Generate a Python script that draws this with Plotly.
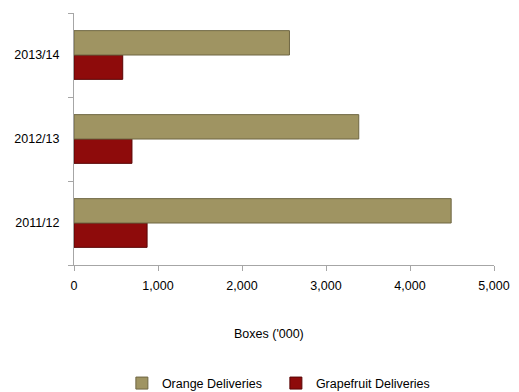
import plotly.graph_objects as go

years = ["2011/12", "2012/13", "2013/14"]
orange = [4490, 3390, 2565]
grapefruit = [870, 690, 580]
x_ticks = [0, 1000, 2000, 3000, 4000, 5000]
x_tick_labels = ["0", "1,000", "2,000", "3,000", "4,000", "5,000"]

FONT = "Liberation Sans, Arial, sans-serif"
FS = 12.5

fig = go.Figure()
fig.add_trace(go.Bar(
    y=years, x=grapefruit, orientation="h", name="Grapefruit Deliveries",
    marker=dict(color="#8E0B0B", line=dict(color="#5A0505", width=1)),
    legendrank=2,
))
fig.add_trace(go.Bar(
    y=years, x=orange, orientation="h", name="Orange Deliveries",
    marker=dict(color="#9F9462", line=dict(color="#6E6642", width=1)),
    legendrank=1,
))

fig.update_layout(
    width=519, height=392,
    margin=dict(l=74, r=25, t=13, b=127, autoexpand=False),
    paper_bgcolor="white", plot_bgcolor="white",
    barmode="group", bargap=0.42, bargroupgap=0,
    font=dict(family=FONT, size=FS, color="#000000"),
    showlegend=True,
    legend=dict(orientation="h", x=0.114, xanchor="left", y=-0.47, yanchor="middle",
                font=dict(size=FS), itemwidth=30, entrywidthmode="pixels", entrywidth=109),
    annotations=[dict(text="Boxes ('000)", xref="paper", yref="paper",
                      x=0.464, y=-0.274, xanchor="center", yanchor="middle",
                      showarrow=False, font=dict(size=FS))],
)
fig.update_xaxes(
    range=[0, 5000], tickvals=x_ticks, ticktext=x_tick_labels,
    showline=True, linecolor="#A6A6A6", linewidth=1,
    ticks="outside", ticklen=5, tickcolor="#A6A6A6",
    showgrid=False, zeroline=False, ticklabelstandoff=4,
)
fig.update_yaxes(
    type="category", categoryorder="array", categoryarray=years,
    showline=True, linecolor="#A6A6A6", linewidth=1,
    ticks="outside", ticklen=5, tickcolor="#A6A6A6", tickson="boundaries",
    showgrid=False, zeroline=False, ticklabelstandoff=11,
)

fig.write_html("out.html")
